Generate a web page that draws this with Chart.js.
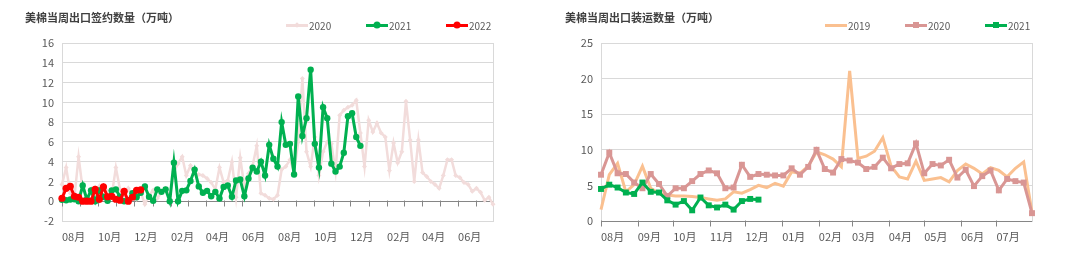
<!DOCTYPE html>
<html>
<head>
<meta charset="utf-8">
<script src="https://cdn.jsdelivr.net/npm/chart.js@4.4.1/dist/chart.umd.min.js"></script>
<style>
  body { margin: 0; background: #fff; font-family: "Noto Sans CJK SC", "Noto Sans", sans-serif; }
  .fila { display: flex; width: 1080px; height: 272px; }
  .caja { position: relative; width: 540px; height: 272px; }
  .titulo { position: absolute; left: 25px; top: 9px; font-size: 11px; font-weight: bold; color: #404040; white-space: nowrap; }
  .item { position: absolute; top: 18px; height: 14px; display: flex; align-items: center; font-size: 10px; color: #595959; }
  .muestra { position: relative; width: 22px; height: 3px; margin-right: 1px; }
  .muestra i { position: absolute; left: 50%; top: 50%; }
</style>
</head>
<body>
<div class="fila">
  <div class="caja" id="caja1">
    <canvas id="grafica1" width="540" height="272"></canvas>
    <div class="titulo">美棉当周出口签约数量（万吨）</div>
  </div>
  <div class="caja" id="caja2">
    <canvas id="grafica2" width="540" height="272"></canvas>
    <div class="titulo">美棉当周出口装运数量（万吨）</div>
  </div>
</div>
<script>
// dias de cada mes, empezando en agosto (eje en semanas desde el 1 de agosto)
const dias_mes = [31, 30, 31, 30, 31, 31, 28, 31, 30, 31, 30, 31];
const meses_grafica1 = ['08月', '10月', '12月', '02月', '04月', '06月', '08月', '10月', '12月', '02月', '04月', '06月'];
const meses_grafica2 = ['08月', '09月', '10月', '11月', '12月', '01月', '02月', '03月', '04月', '05月', '06月', '07月'];

// 签约 (万吨), una cifra por semana
const firmas_2020 = [1.7, 3.4, 0.8, 0.4, 4.5, 1.2, 0.3, 0.9, 0.2, 1.5,
    0.3, 1.0, 0.6, 3.4, 1.2, 0.2, 1.3, 0.5, 0.2, 0.9,
    -0.3, 0.6, 1.1, 0.3, 0.9, 1.3, 0.5, 3.0, 3.8, 4.5,
    2.6, 3.6, 2.8, 2.7, 2.6, 2.3, 1.9, 1.2, 3.4, 1.9,
    2.1, 4.0, 0.4, 4.4, 1.5, 2.8, 3.6, 5.6, 0.8, 0.6,
    0.3, 0.2, 0.6, 3.2, 3.5, 4.2, 3.0, 6.0, 12.4, 5.0,
    3.5, 6.5, 2.6, 5.0, 6.0, 5.8, 3.0, 8.7, 9.2, 9.5,
    9.7, 10.2, 6.9, 3.5, 8.2, 7.0, 7.9, 6.9, 6.5, 3.1,
    5.9, 3.9, 5.0, 10.1, 6.2, 2.0, 6.2, 2.9, 2.5, 2.0,
    1.7, 1.3, 2.6, 4.2, 4.2, 2.6, 2.4, 1.9, 1.7, 1.0,
    1.3, 0.9, 0.1, 0.4, -0.3];
const firmas_2021 = [0.15, 0.1, 0.17, 0.2, 0, 1.6, 0.17, 1.1, 0, 1.1,
    0.45, 0.05, 1.1, 1.2, 0.45, 0, 0.1, 0.8, 0.4, 0.85,
    1.5, 0.45, 0.05, 1.2, 0.95, 1.2, 0, 3.9, 0, 1.05,
    1.1, 2.05, 3.2, 1.5, 0.85, 1.05, 0.5, 0.95, 0.27, 1.45,
    1.6, 0.45, 2.1, 2.2, 0.5, 2.3, 3.4, 3.0, 4.0, 2.6,
    5.7, 4.3, 3.5, 8.0, 5.7, 5.8, 2.7, 10.6, 6.6, 8.4,
    13.3, 5.8, 3.4, 9.5, 8.4, 3.8, 3.0, 3.5, 4.9, 8.6,
    8.9, 6.5, 5.6];
const firmas_2022 = [0.3, 1.3, 1.5, 0.5, 0.4, 0, 0, 0, 1.2, 0.2,
    1.45, 0.45, 0.5, 0.2, 0.1, 1.0, 0, 0.4, 1.1, 1.15];

// 装运 (万吨)
const envios_2019 = [1.6, 6.5, 8.1, 4.1, 5.1, 7.7, 4.6, 3.9, 3.65, 3.5,
    3.5, 3.45, 3.3, 3.1, 2.9, 3.1, 4.1, 3.9, 4.4, 5.0,
    4.7, 5.3, 4.9, 6.9, 6.7, 7.7, 9.7, 9.3, 8.7, 7.6,
    21.1, 8.8, 9.1, 9.8, 11.7, 7.7, 6.2, 5.9, 8.4, 5.7,
    5.9, 6.1, 5.5, 7.1, 8.0, 7.4, 6.6, 7.5, 7.1, 6.2,
    7.4, 8.3, 1.2];
const envios_2020 = [6.5, 9.6, 6.7, 6.6, 5.4, 4.6, 6.6, 5.2, 3.5, 4.6,
    4.6, 5.6, 6.6, 7.1, 6.7, 4.6, 4.7, 7.9, 6.2, 6.6,
    6.5, 6.4, 6.4, 7.4, 6.5, 7.6, 10.0, 7.3, 6.8, 8.7,
    8.5, 8.2, 7.3, 7.6, 8.9, 7.4, 8.0, 8.1, 10.9, 6.7,
    8.0, 7.8, 8.6, 6.1, 7.2, 4.9, 6.3, 7.1, 4.3, 5.9,
    5.6, 5.4, 1.1];
const envios_2021 = [4.5, 5.1, 4.7, 4.0, 3.8, 5.4, 4.1, 4.0, 2.9, 2.3,
    2.8, 1.5, 3.3, 2.2, 1.9, 2.3, 1.6, 2.8, 3.1, 3.0];

// inicio de cada mes en semanas
const inicio_meses = (anios) => {
    let pos = [0], dias = 0;
    for (let a = 0; a < anios; a++) {
        dias_mes.forEach(d => { dias += d; pos.push(dias / 7); });
    }
    return pos.slice(0, pos.length - 1);
};

const series_grafica1 = [
    {nombre: '2020', datos: firmas_2020, color: '#F2DCDB', grosor: 2.5, punto: 'rectRot', radio: 2.5, orden: 3},
    {nombre: '2021', datos: firmas_2021, color: '#00B050', grosor: 3, punto: 'circle', radio: 3.2, orden: 2},
    {nombre: '2022', datos: firmas_2022, color: '#FF0000', grosor: 3, punto: 'circle', radio: 3.6, orden: 1}
];
const series_grafica2 = [
    {nombre: '2019', datos: envios_2019, color: '#FAC090', grosor: 3, punto: false, radio: 0, orden: 3},
    {nombre: '2020', datos: envios_2020, color: '#D99694', grosor: 3, punto: 'rect', radio: 4.2, orden: 2},
    {nombre: '2021', datos: envios_2021, color: '#00B050', grosor: 3, punto: 'rect', radio: 4.2, orden: 1}
];

document.addEventListener("DOMContentLoaded", function(event) {
    build_chart_lineas(document.getElementById("grafica1"), series_grafica1,
        {max: 104, posiciones: inicio_meses(2), etiqueta: (i) => i % 2 ? '' : meses_grafica1[i / 2]},
        {min: -2, max: 16, paso: 2, ancho: 62}, 47);
    build_chart_lineas(document.getElementById("grafica2"), series_grafica2,
        {max: 52, posiciones: inicio_meses(1), etiqueta: (i) => meses_grafica2[i]},
        {min: 0, max: 25, paso: 5, ancho: 61}, 48);
    build_leyenda(document.getElementById("caja1"), series_grafica1, 286);
    build_leyenda(document.getElementById("caja2"), series_grafica2, 285);
});

// eje horizontal en y = 0 con sus marcas, y borde del area
const eje_cero = {
    id: 'eje_cero',
    beforeDatasetsDraw(chart) {
        const {ctx, chartArea: a, scales: {x, y}} = chart;
        const y0 = Math.round(y.getPixelForValue(0)) + 0.5;
        ctx.save();
        ctx.lineWidth = 1;
        ctx.strokeStyle = '#d9d9d9';
        ctx.strokeRect(Math.round(a.left) + 0.5, Math.round(a.top) + 0.5, Math.round(a.right - a.left), Math.round(a.bottom - a.top));
        ctx.strokeStyle = '#868686';
        ctx.beginPath();
        ctx.moveTo(a.left, y0);
        ctx.lineTo(a.right, y0);
        x.ticks.forEach(t => {
            const px = Math.round(x.getPixelForValue(t.value)) + 0.5;
            ctx.moveTo(px, y0 - 1);
            ctx.lineTo(px, y0 + 5);
        });
        ctx.stroke();
        ctx.restore();
    }
};

const build_chart_lineas = (id_canvas, series, eje_x, eje_y, margen_derecho) => {
    try {
        new Chart(id_canvas, {
            type: 'line',
            plugins: [eje_cero],
            data: {
                datasets: series.map(s => ({
                    label: s.nombre,
                    data: s.datos.map((v, i) => ({x: i, y: v})),
                    borderColor: s.color,
                    backgroundColor: s.color,
                    borderWidth: s.grosor,
                    pointStyle: s.punto,
                    pointRadius: s.radio,
                    pointBorderWidth: 0,
                    order: s.orden,
                    tension: 0,
                    clip: false
                }))
            },
            options: {
                responsive: false,
                animation: false,
                layout: {padding: {top: 43, right: margen_derecho, bottom: 0, left: 0}},
                plugins: {legend: {display: false}, tooltip: {enabled: false}},
                scales: {
                    x: {
                        type: 'linear', min: 0, max: eje_x.max,
                        afterBuildTicks: (eje) => { eje.ticks = eje_x.posiciones.map(v => ({value: v})); },
                        afterFit: (eje) => { eje.height = 51; },
                        grid: {display: false, drawTicks: false},
                        border: {display: false},
                        ticks: {
                            autoSkip: false, maxRotation: 0, align: 'start', padding: 9,
                            color: '#595959', font: {family: 'Noto Sans CJK SC', size: 11},
                            callback: (v, i) => eje_x.etiqueta(i)
                        }
                    },
                    y: {
                        min: eje_y.min, max: eje_y.max,
                        afterFit: (eje) => { eje.width = eje_y.ancho; },
                        grid: {color: '#d9d9d9', drawTicks: false},
                        border: {display: false},
                        ticks: {stepSize: eje_y.paso, padding: 8, color: '#595959', font: {family: 'Noto Sans CJK SC', size: 11}}
                    }
                }
            }
        });
    } catch (e) {
        console.error("Ocurrio un error", e);
    }
};

const build_leyenda = (caja, series, inicio) => {
    series.forEach((s, i) => {
        const item = document.createElement('div');
        item.className = 'item';
        item.style.left = (inicio + i * 80) + 'px';
        let marca = '';
        if (s.punto === 'circle') {
            marca = `<i style="width:7px;height:7px;border-radius:50%;background:${s.color};transform:translate(-50%,-50%)"></i>`;
        } else if (s.punto === 'rect') {
            marca = `<i style="width:6px;height:6px;background:${s.color};transform:translate(-50%,-50%)"></i>`;
        } else if (s.punto === 'rectRot') {
            marca = `<i style="width:4px;height:4px;background:${s.color};transform:translate(-50%,-50%) rotate(45deg)"></i>`;
        }
        item.innerHTML = `<span class="muestra" style="background:${s.color}">${marca}</span><span>${s.nombre}</span>`;
        caja.appendChild(item);
    });
};
</script>
</body>
</html>
